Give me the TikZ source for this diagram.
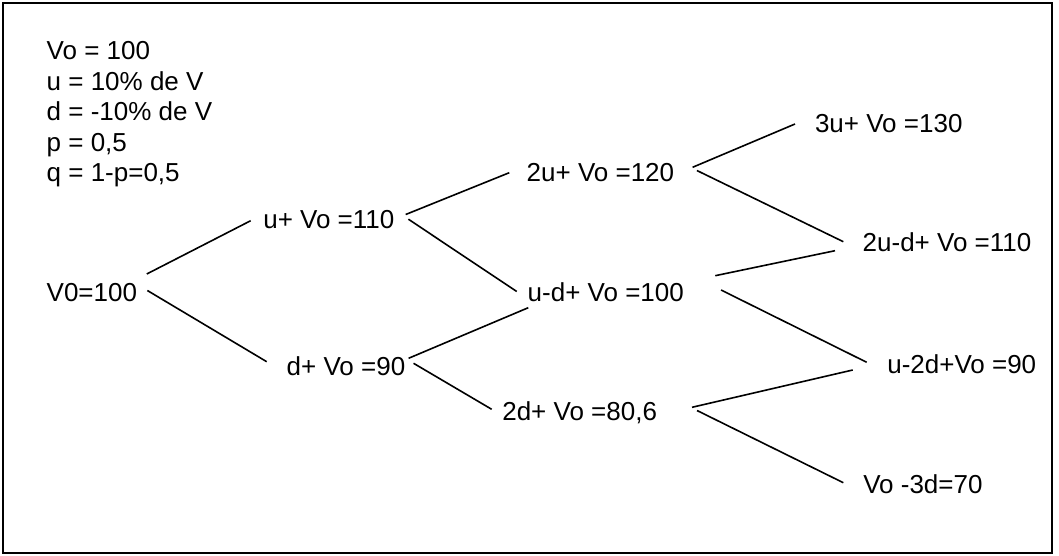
\documentclass[tikz,border=0pt]{standalone}
\usepackage{fontspec}
\setmainfont{Liberation Sans}
\begin{document}
\begin{tikzpicture}[x=1pt,y=1pt,
  lbl/.style={inner sep=0pt,outer sep=0pt,anchor=base west,font=\fontsize{26}{31}\selectfont},
  edge/.style={line width=1.6pt,line cap=butt}]
\useasboundingbox (0,0) rectangle (1059,-556);
\draw[line width=2pt] (3,-3) rectangle (1052,-553);
% legend
\node[lbl] (l1) at (46.7,-60)    {Vo = 100};
\node[lbl] (l2) at (46.7,-90.5)  {u = 10\% de V};
\node[lbl] (l3) at (46.7,-121)   {d = -10\% de V};
\node[lbl] (l4) at (46.7,-151.5) {p = 0,5};
\node[lbl] (l5) at (46.7,-182)   {q = 1-p=0,5};
% tree nodes
\node[lbl] (v0) at (46.7,-301.7) {V0=100};
\node[lbl] (u1) at (263.3,-228.3) {u+ Vo =110};
\node[lbl] (d1) at (286.7,-375)   {d+ Vo =90};
\node[lbl] (u2) at (526.7,-181.7) {2u+ Vo =120};
\node[lbl] (m2) at (527.7,-301.7) {u-d+ Vo =100};
\node[lbl] (d2) at (502.3,-420.7) {2d+ Vo =80,6};
\node[lbl] (u3) at (815,-132.3)   {3u+ Vo =130};
\node[lbl] (ma) at (862.7,-251.7) {2u-d+ Vo =110};
\node[lbl] (mb) at (887.3,-373.3) {u-2d+Vo =90};
\node[lbl] (d3) at (863.3,-493.3) {Vo -3d=70};
% connectors
\draw[edge] ([shift={(9.7,27.7)}]v0.base east) -- ([shift={(-12.6,7.6)}]u1.base west);
\draw[edge] ([shift={(10.3,11.2)}]v0.base east) -- ([shift={(-20,13.3)}]d1.base west);
\draw[edge] ([shift={(11.3,13.8)}]u1.base east) -- ([shift={(-17.4,9)}]u2.base west);
\draw[edge] ([shift={(14,9.1)}]u1.base east) -- ([shift={(-11,10.2)}]m2.base west);
\draw[edge] ([shift={(3.3,16.7)}]d1.base east) -- ([shift={(0.6,-6)}]m2.base west);
\draw[edge] ([shift={(8.3,11.7)}]d1.base east) -- ([shift={(-10.6,11.4)}]d2.base west);
\draw[edge] ([shift={(18.4,14.4)}]u2.base east) -- ([shift={(-20,8.3)}]u3.base west);
\draw[edge] ([shift={(22.7,11.2)}]u2.base east) -- ([shift={(-19.4,10)}]ma.base west);
\draw[edge] ([shift={(31.4,26)}]m2.base east) -- ([shift={(-27.7,1)}]ma.base west);
\draw[edge] ([shift={(37.2,11.7)}]m2.base east) -- ([shift={(-20.6,11)}]mb.base west);
\draw[edge] ([shift={(35,13.4)}]d2.base east) -- ([shift={(-34.6,3.3)}]mb.base west);
\draw[edge] ([shift={(40,10.2)}]d2.base east) -- ([shift={(-20,10.6)}]d3.base west);
\end{tikzpicture}
\end{document}
